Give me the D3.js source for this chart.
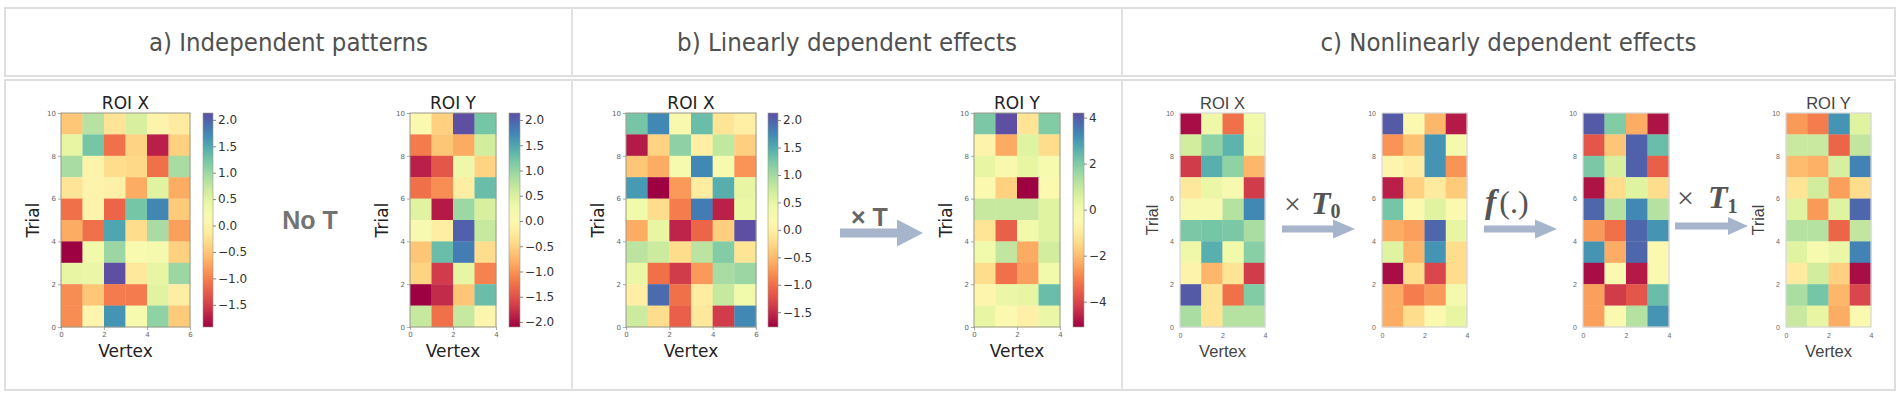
<!DOCTYPE html>
<html>
<head>
  <meta charset='utf-8'>
  <script type="text/javascript" src="https://cdn.jsdelivr.net/npm/d3@7"></script>
  <style type="text/css">
    body { margin: 0; background: #fff; }
    .frame { fill: none; stroke: #dedede; stroke-width: 2; }
    .hdr { font-family: "Liberation Sans Narrow", "DejaVu Sans Condensed", sans-serif; font-size: 25px; fill: #505050; }
  </style>
</head>
<body>
</body>
<script type="text/javascript">
  let w = 1902;
  let h = 398;

  // panel headers
  let headers = ["a) Independent patterns", "b) Linearly dependent effects", "c) Nonlinearly dependent effects"];
  let panelEdges = [5, 572, 1122, 1895];

  // a) values, rows listed from trial 9 (top) down to trial 0
  let aRoiX = [
    [-0.50, 0.83, -0.22, 0.59, -0.02, -0.14],
    [0.43, 1.24, -1.11, -0.38, -1.72, -0.42],
    [0.92, -0.02, -0.30, -0.34, -1.11, 0.92],
    [-0.22, -0.02, -0.06, -0.70, 0.51, -0.70],
    [-1.11, -0.02, -1.19, 1.24, 1.73, -0.46],
    [-0.70, -1.11, 1.52, -0.30, 0.92, -0.79],
    [-1.92, 0.31, 1.00, 0.19, 0.27, -0.42],
    [0.43, 0.39, 2.13, -0.18, 0.43, 1.00],
    [-0.91, -0.50, -1.03, -1.03, 0.51, -0.10],
    [-0.91, 0.02, 1.64, 0.23, 1.08, -0.46]
  ];
  let aRoiY = [
    [0.02, -0.53, 2.14, 1.21],
    [-1.17, -0.62, -0.83, 0.57],
    [-1.89, -1.46, 0.27, -0.49],
    [-1.25, -1.04, -0.19, 1.29],
    [0.44, -1.93, 0.95, 0.53],
    [0.10, -0.19, 2.01, 0.66],
    [-0.62, 1.29, 1.80, -0.40],
    [-0.49, -1.68, 0.36, -1.12],
    [-2.10, -1.80, -0.62, 1.29],
    [0.66, -1.25, 0.66, -0.06]
  ];

  // b) values
  let bRoiX = [
    [1.27, 1.74, 0.26, 1.35, -0.13, -0.01],
    [-1.61, -0.29, 1.12, -0.01, 0.80, -0.33],
    [-0.40, -0.60, 0.30, 1.74, 0.30, -0.76],
    [1.62, -1.77, -0.72, -0.05, 1.47, 0.49],
    [0.38, -0.21, -0.91, 1.82, -1.57, 0.45],
    [-0.60, 0.49, -1.54, -1.07, -0.33, 2.13],
    [0.84, 0.73, -0.21, 0.84, 1.19, -0.13],
    [0.45, -0.99, -1.38, -0.72, 0.96, 1.04],
    [-0.01, 1.94, -0.99, -0.05, 0.77, 0.38],
    [0.73, -0.21, -1.11, -0.09, -1.38, 1.74]
  ];
  let bRoiY = [
    [2.06, 4.20, -1.19, 1.97],
    [-0.73, -2.31, 0.48, -1.38],
    [0.29, -0.26, 0.29, -0.17],
    [-0.45, -1.66, -5.10, -0.45],
    [0.95, 0.95, 0.95, 0.48],
    [-1.19, -3.52, 0.02, 0.48],
    [0.02, 1.04, -2.31, 0.76],
    [-1.38, -3.24, -2.50, 0.02],
    [-0.64, 0.20, 0.29, 2.34],
    [0.29, -0.45, -0.82, 0.20]
  ];

  // c) values (no colorbar, normalised 0..1)
  let cRoiX = [
    [0.02, 0.56, 0.20, 0.55],
    [0.63, 0.74, 0.82, 0.56],
    [0.10, 0.83, 0.74, 0.32],
    [0.43, 0.57, 0.52, 0.10],
    [0.52, 0.52, 0.68, 0.90],
    [0.77, 0.78, 0.77, 0.70],
    [0.56, 0.83, 0.55, 0.75],
    [0.47, 0.32, 0.42, 0.10],
    [0.98, 0.42, 0.20, 0.76],
    [0.70, 0.42, 0.68, 0.68]
  ];
  let cMid0 = [
    [0.98, 0.50, 0.32, 0.04],
    [0.26, 0.34, 0.88, 0.54],
    [0.48, 0.45, 0.88, 0.26],
    [0.05, 0.37, 0.44, 0.36],
    [0.78, 0.50, 0.60, 0.50],
    [0.30, 0.28, 0.96, 0.58],
    [0.60, 0.32, 0.88, 0.40],
    [0.02, 0.40, 0.12, 0.40],
    [0.30, 0.22, 0.27, 0.54],
    [0.30, 0.40, 0.50, 0.58]
  ];
  let cMid1 = [
    [0.98, 0.76, 0.30, 0.03],
    [0.15, 0.35, 0.97, 0.80],
    [0.77, 0.62, 0.97, 0.17],
    [0.03, 0.40, 0.60, 0.40],
    [0.96, 0.68, 0.90, 0.68],
    [0.27, 0.20, 0.96, 0.88],
    [0.88, 0.30, 0.96, 0.50],
    [0.02, 0.50, 0.04, 0.50],
    [0.28, 0.10, 0.15, 0.80],
    [0.28, 0.50, 0.68, 0.88]
  ];
  let cRoiY = [
    [0.27, 0.22, 0.88, 0.60],
    [0.65, 0.65, 0.18, 0.66],
    [0.33, 0.31, 0.62, 0.91],
    [0.42, 0.63, 0.28, 0.40],
    [0.60, 0.27, 0.60, 0.96],
    [0.68, 0.68, 0.18, 0.66],
    [0.60, 0.53, 0.57, 0.91],
    [0.44, 0.63, 0.37, 0.02],
    [0.70, 0.78, 0.32, 0.12],
    [0.65, 0.58, 0.30, 0.50]
  ];

  // tick labels
  let trialTicks = [0, 2, 4, 6, 8, 10];
  let vertexTicks6 = [0, 2, 4, 6];
  let vertexTicks4 = [0, 2, 4];
  let cbTicksA = [-1.5, -1, -0.5, 0, 0.5, 1, 1.5, 2];
  let cbTicksAY = [-2, -1.5, -1, -0.5, 0, 0.5, 1, 1.5, 2];
  let cbTicksBY = [-4, -2, 0, 2, 4];

  let svg = d3.select("body")
    .append("svg")
    .attr("width", w)
    .attr("height", h);
  let defs = svg.append("defs");

  // table frame
  svg.append("rect").attr("class", "frame")
    .attr("x", panelEdges[0]).attr("y", 8)
    .attr("width", panelEdges[3] - panelEdges[0]).attr("height", 68);
  svg.append("rect").attr("class", "frame")
    .attr("x", panelEdges[0]).attr("y", 80)
    .attr("width", panelEdges[3] - panelEdges[0]).attr("height", 310);
  svg.selectAll("line.sep")
    .data(panelEdges.slice(1, 3))
    .enter()
    .append("line")
    .attr("class", "frame")
    .attr("x1", d => d).attr("x2", d => d)
    .attr("y1", 8).attr("y2", 390)
    .style("stroke", "#e2e2e2");
  svg.append("rect").attr("x", panelEdges[0]).attr("y", 77)
    .attr("width", panelEdges[3] - panelEdges[0]).attr("height", 2).attr("fill", "#fff");

  let hdrWidths = [279, 340, 376];
  svg.selectAll("text.hdr")
    .data(headers)
    .enter()
    .append("text")
    .attr("class", "hdr")
    .attr("x", (d, i) => (panelEdges[i] + panelEdges[i + 1]) / 2)
    .attr("y", 51)
    .attr("text-anchor", "middle")
    .attr("textLength", (d, i) => hdrWidths[i])
    .attr("lengthAdjust", "spacingAndGlyphs")
    .text(d => d);

  let yTop = 113, yBottom = 327;
  let gradId = 0;

  function heatmap(o) {
    let mpl = o.style == "mpl";
    let font = mpl ? "DejaVu Sans" : "Liberation Sans";
    let nc = o.rows[0].length, nr = o.rows.length;
    let x = d3.scaleLinear().domain([0, nc]).range([o.x0, o.x1]);
    let y = d3.scaleLinear().domain([0, nr]).range([yBottom, yTop]);
    let all = o.rows.flat();
    let domain = o.domain || d3.extent(all);
    let color = d3.scaleSequential(d3.interpolateSpectral).domain(domain);
    let cells = o.rows.flatMap((r, i) => r.map((v, j) => ({ row: nr - 1 - i, col: j, v: v })));
    let g = svg.append("g");

    g.selectAll("rect.cell")
      .data(cells)
      .enter()
      .append("rect")
      .attr("x", d => x(d.col))
      .attr("y", d => y(d.row + 1))
      .attr("width", x(1) - x(0) + 0.3)
      .attr("height", y(0) - y(1) + 0.3)
      .attr("fill", d => color(d.v));

    g.append("rect")
      .attr("x", o.x0).attr("y", yTop)
      .attr("width", o.x1 - o.x0).attr("height", yBottom - yTop)
      .attr("fill", "none")
      .attr("stroke", mpl ? "#9a9a8a" : "#d8d8d8")
      .attr("stroke-width", mpl ? 1 : 1.2);

    let fmtInt = d3.format("d");
    let ay = g.append("g")
      .attr("transform", "translate(" + o.x0 + ",0)")
      .call(d3.axisLeft(y).tickValues(trialTicks).tickFormat(fmtInt).tickSize(mpl ? 3 : 0).tickPadding(mpl ? 2 : 6));
    let ax = g.append("g")
      .attr("transform", "translate(0," + yBottom + ")")
      .call(d3.axisBottom(x).tickValues(nc == 6 ? vertexTicks6 : vertexTicks4).tickFormat(fmtInt).tickSize(mpl ? 3 : 0).tickPadding(mpl ? 2 : 6));
    [ay, ax].forEach(a => {
      a.select(".domain").remove();
      a.selectAll("text").style("font-family", font).style("font-size", "7px").attr("fill", "#666");
      a.selectAll("line").attr("stroke", "#777").attr("stroke-width", 0.6);
    });

    let cx = (o.x0 + o.x1) / 2;
    if (o.title) {
      g.append("text")
        .attr("x", cx).attr("y", 109)
        .attr("text-anchor", "middle")
        .style("font-family", font).style("font-size", mpl ? "17px" : "16.5px")
        .attr("fill", mpl ? "#222" : "#444")
        .text(o.title);
    }
    if (o.labels) {
      g.append("text")
        .attr("x", cx).attr("y", 357)
        .attr("text-anchor", "middle")
        .style("font-family", font).style("font-size", mpl ? "17px" : "16.5px")
        .attr("fill", mpl ? "#222" : "#444")
        .text("Vertex");
      g.append("text")
        .attr("transform", "translate(" + (o.x0 - 22) + "," + ((yTop + yBottom) / 2) + ") rotate(-90)")
        .attr("text-anchor", "middle")
        .style("font-family", font).style("font-size", mpl ? "17px" : "16px")
        .attr("fill", mpl ? "#222" : "#444")
        .text("Trial");
    }

    if (o.cb) {
      let id = "grad" + (gradId++);
      let grad = defs.append("linearGradient").attr("id", id)
        .attr("x1", 0).attr("y1", 1).attr("x2", 0).attr("y2", 0);
      grad.selectAll("stop")
        .data(d3.range(0, 1.0001, 0.05))
        .enter()
        .append("stop")
        .attr("offset", d => d)
        .attr("stop-color", d => d3.interpolateSpectral(d));
      let cbx = o.cb[0], cbw = o.cb[1];
      g.append("rect")
        .attr("x", cbx).attr("y", yTop)
        .attr("width", cbw).attr("height", yBottom - yTop)
        .attr("fill", "url(#" + id + ")")
        .attr("stroke", "#9a9a8a").attr("stroke-width", 0.6);
      let cs = d3.scaleLinear().domain(domain).range([yBottom, yTop]);
      let fmt = o.cbFormat == "d" ? d3.format("d") : d3.format(".1f");
      let ca = g.append("g")
        .attr("transform", "translate(" + (cbx + cbw) + ",0)")
        .call(d3.axisRight(cs).tickValues(o.cbTicks).tickSize(3).tickPadding(2).tickFormat(fmt));
      ca.select(".domain").remove();
      ca.selectAll("text").style("font-family", "DejaVu Sans").style("font-size", "12px").attr("fill", "#333");
      ca.selectAll("line").attr("stroke", "#555").attr("stroke-width", 0.7);
    }
  }

  function arrow(x0, x1, yc, shaft, headLen, headH) {
    let xh = x1 - headLen;
    let pts = [[x0, yc - shaft / 2], [xh, yc - shaft / 2], [xh, yc - headH / 2], [x1, yc],
      [xh, yc + headH / 2], [xh, yc + shaft / 2], [x0, yc + shaft / 2]];
    svg.append("path")
      .attr("d", d3.line()(pts) + "Z")
      .attr("fill", "#a7b5cc");
  }

  // a)
  heatmap({ rows: aRoiX, x0: 61, x1: 190, style: "mpl", title: "ROI X", labels: true, cb: [203, 10], cbTicks: cbTicksA });
  heatmap({ rows: aRoiY, x0: 410, x1: 496, style: "mpl", title: "ROI Y", labels: true, cb: [509, 11], cbTicks: cbTicksAY });
  svg.append("text")
    .attr("x", 310).attr("y", 229)
    .attr("text-anchor", "middle")
    .style("font-family", "Liberation Sans").style("font-weight", "bold").style("font-size", "25px")
    .attr("fill", "#737373")
    .text("No T");

  // b)
  heatmap({ rows: bRoiX, x0: 626, x1: 756, style: "mpl", title: "ROI X", labels: true, cb: [768, 10], cbTicks: cbTicksA });
  heatmap({ rows: bRoiY, x0: 974, x1: 1060, style: "mpl", title: "ROI Y", labels: true, cb: [1073, 11], cbTicks: cbTicksBY, cbFormat: "d" });
  arrow(840, 923, 233, 9, 26, 27);
  svg.append("text")
    .attr("x", 851).attr("y", 226)
    .style("font-family", "Liberation Sans").style("font-weight", "bold").style("font-size", "25px")
    .attr("fill", "#666")
    .text("× T");

  // c)
  heatmap({ rows: cRoiX, x0: 1180, x1: 1265, style: "sns", domain: [0, 1], title: "ROI X", labels: true });
  heatmap({ rows: cMid0, x0: 1382, x1: 1467, style: "sns", domain: [0, 1] });
  heatmap({ rows: cMid1, x0: 1583, x1: 1669, style: "sns", domain: [0, 1] });
  heatmap({ rows: cRoiY, x0: 1786, x1: 1871, style: "sns", domain: [0, 1], title: "ROI Y", labels: true });
  arrow(1282, 1355, 229, 7, 22, 19);
  arrow(1484, 1557, 229, 7, 22, 19);
  arrow(1675, 1748, 226, 7, 20, 18);

  function mathLabel(x, y, parts) {
    let t = svg.append("text").attr("x", x).attr("y", y)
      .style("font-family", "Liberation Serif").attr("fill", "#555");
    parts.forEach(p => {
      t.append("tspan")
        .attr("dx", p.dx || 0).attr("dy", p.dy || 0)
        .style("font-size", p.size + "px")
        .style("font-style", p.italic ? "italic" : "normal")
        .style("font-weight", p.bold ? "bold" : "normal")
        .text(p.s);
    });
  }
  mathLabel(1284, 214, [{ s: "×", size: 30 }, { s: "T", size: 32, italic: true, bold: true, dx: 10 }, { s: "0", size: 20, bold: true, dy: 4 }]);
  mathLabel(1485, 213, [{ s: "f", size: 34, italic: true, bold: true }, { s: "(.)", size: 32, dx: 3 }]);
  mathLabel(1677, 208, [{ s: "×", size: 30 }, { s: "T", size: 32, italic: true, bold: true, dx: 14 }, { s: "1", size: 20, bold: true, dy: 5 }]);
</script>
</html>
